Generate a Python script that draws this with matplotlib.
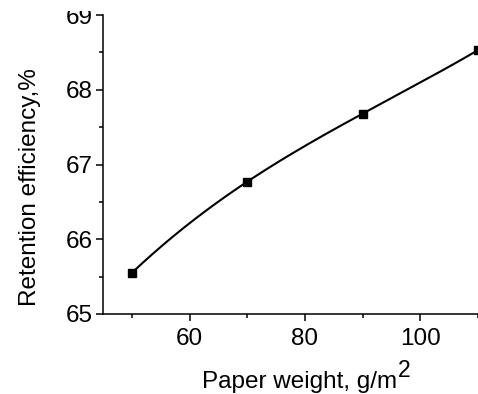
import numpy as np
import matplotlib
matplotlib.use("Agg")
import matplotlib.pyplot as plt
from matplotlib.ticker import MultipleLocator
from matplotlib.patches import Rectangle

plt.rcParams['font.family'] = ['Liberation Sans', 'DejaVu Sans']

paper_weight = [50, 70, 90, 110]
retention = [65.55, 66.77, 67.68, 68.53]

W, H = 478, 394
fig = plt.figure(figsize=(W / 100, H / 100), dpi=100)
ax = fig.add_axes([103 / W, 80 / H, 1 - 103 / W, (314 - 15) / H])

coef = np.polyfit(paper_weight, retention, 3)
xs = np.linspace(min(paper_weight), max(paper_weight), 200)
ax.plot(xs, np.polyval(coef, xs), color='black', lw=1.5, clip_on=False)
ax.plot(paper_weight, retention, 's', color='black', ms=5.5, clip_on=False)

ax.set_xlim(45, 110)
ax.set_ylim(65, 69)
ax.set_xticks([60, 80, 100])
ax.xaxis.set_minor_locator(MultipleLocator(10))
ax.yaxis.set_major_locator(MultipleLocator(1))
ax.yaxis.set_minor_locator(MultipleLocator(0.5))
for s in ['top', 'right']:
    ax.spines[s].set_visible(False)
for s in ['left', 'bottom']:
    ax.spines[s].set_linewidth(1.1)
ax.tick_params(which='major', direction='out', length=5, width=1.1, labelsize=17.5, pad=2.5)
ax.tick_params(which='minor', direction='out', length=3, width=1.1)
ax.tick_params(axis='x', which='major', pad=5)

fs = 17.5
ax.set_xlabel('Paper weight, g/m', fontsize=fs)
ax.xaxis.set_label_coords((300 - 103) / 375, (314 - 388) / 299)
ax.xaxis.label.set_va('baseline')
ax.annotate('2', xy=(1, 0), xycoords=ax.xaxis.label, xytext=(0.3, 8),
            textcoords='offset points', ha='left', va='bottom', fontsize=fs - 1)

ax.set_ylabel('Retention efficiency,%', fontsize=fs)
ax.yaxis.set_label_coords((36 - 103) / 375, (314 - 187.5) / 299)
ax.yaxis.label.set_va('baseline')

# the reference image is blank along its top few rows (top label is cut there)
fig.patches.append(Rectangle((0, 1 - 11 / H), 1, 11 / H, transform=fig.transFigure,
                             facecolor='white', edgecolor='none', zorder=100))

fig.savefig('out.png', dpi=100)
